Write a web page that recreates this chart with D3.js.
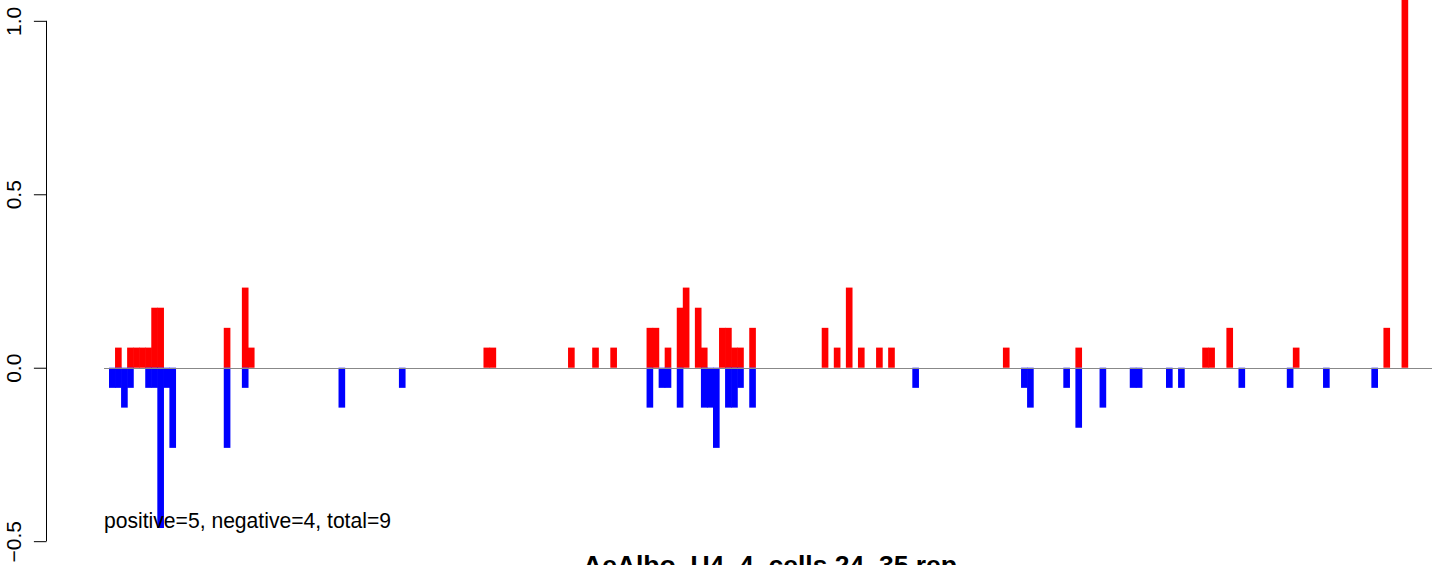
<!DOCTYPE html>
<html>
<head>
<meta charset="utf-8">
<script src="https://cdn.jsdelivr.net/npm/d3@7"></script>
<style>
  html, body { margin: 0; padding: 0; background: #ffffff; }
  svg { display: block; }
  text { font-family: "Liberation Sans", Arial, Helvetica, sans-serif; }
</style>
</head>
<body>
<script>
// ---- data (unit step ≈ 0.0577) ----
const nSlots = 215;
const redIdx = [1, 3, 4, 5, 6, 7, 8, 19, 22, 23, 62, 63, 76, 80, 83, 89, 90, 92, 94, 95, 97, 98,
  101, 102, 103, 104, 106, 118, 120, 122, 124, 127, 129, 148, 160, 181, 182, 185, 196, 211, 214];
const redVal = [0.058, 0.058, 0.058, 0.058, 0.058, 0.173, 0.173, 0.115, 0.231, 0.058, 0.058, 0.058,
  0.058, 0.058, 0.058, 0.115, 0.115, 0.058, 0.173, 0.231, 0.173, 0.058, 0.115, 0.115, 0.058, 0.058,
  0.115, 0.115, 0.058, 0.231, 0.058, 0.058, 0.058, 0.058, 0.058, 0.058, 0.058, 0.115, 0.058, 0.115, 1.2];
const blueIdx = [0, 1, 2, 3, 6, 7, 8, 9, 10, 19, 22, 38, 48, 89, 91, 92, 94, 98, 99, 100, 102, 103,
  104, 106, 133, 151, 152, 158, 160, 164, 169, 170, 175, 177, 187, 195, 201, 209];
const blueVal = [-0.058, -0.058, -0.115, -0.058, -0.058, -0.058, -0.462, -0.058, -0.231, -0.231,
  -0.058, -0.115, -0.058, -0.115, -0.058, -0.058, -0.115, -0.115, -0.115, -0.231, -0.115, -0.115,
  -0.058, -0.115, -0.058, -0.058, -0.115, -0.058, -0.173, -0.115, -0.058, -0.058, -0.058, -0.058,
  -0.058, -0.058, -0.058, -0.058];
const yTicks = [-0.5, 0.0, 0.5, 1.0];
const yTickLabels = ["\u22120.5", "0.0", "0.5", "1.0"];
const annotation = "positive=5, negative=4, total=9";
const title = "AeAlbo_U4_4, cells 24_35 rep";

// ---- layout ----
const W = 1444, H = 565;
const plotTop = 0, plotBottom = 562;
const axisX = 46;

const svg = d3.select("body").append("svg").attr("width", W).attr("height", H);

const x = d3.scaleLinear().domain([0, nSlots]).range([109, 109 + nSlots * 6.04]);
const y = d3.scaleLinear().domain([-0.56, 1.06]).range([plotBottom, plotTop]);

svg.append("clipPath").attr("id", "plotclip")
  .append("rect").attr("x", 0).attr("y", plotTop).attr("width", W).attr("height", plotBottom - plotTop);

const gBars = svg.append("g").attr("clip-path", "url(#plotclip)");

function drawBars(idx, vals, color) {
  const data = idx.map((k, i) => ({ k, v: vals[i] }));
  gBars.selectAll(null).data(data).enter().append("rect")
    .attr("x", d => x(d.k))
    .attr("width", d => x(d.k + 1) - x(d.k) + 0.6)
    .attr("y", d => y(Math.max(0, d.v)))
    .attr("height", d => Math.abs(y(d.v) - y(0)))
    .attr("fill", color);
}
drawBars(redIdx, redVal, "#ff0000");
drawBars(blueIdx, blueVal, "#0000ff");

// baseline
svg.append("line")
  .attr("x1", 104).attr("x2", 1432)
  .attr("y1", Math.round(y(0)) + 0.5).attr("y2", Math.round(y(0)) + 0.5)
  .attr("stroke", "#888888").attr("stroke-width", 1.2);

// y axis (R style)
const yAxis = d3.axisLeft(y).tickValues(yTicks).tickSize(12.6).tickFormat((d, i) => yTickLabels[i]);
const gAxis = svg.append("g").attr("transform", `translate(${axisX + 0.5},0)`).call(yAxis);
gAxis.select(".domain")
  .attr("d", `M0,${y(-0.5)}V${y(1.0)}`)
  .attr("stroke", "#000").attr("stroke-width", 1);
gAxis.selectAll(".tick line").attr("stroke", "#000");
gAxis.selectAll(".tick text")
  .attr("font-size", 21)
  .attr("fill", "#000")
  .attr("text-anchor", "middle")
  .attr("x", 0).attr("dy", 0)
  .attr("transform", `translate(${21 - axisX - 0.5},0) rotate(-90)`);

// annotation
svg.append("text")
  .attr("x", 104).attr("y", 528)
  .attr("font-size", 22)
  .attr("textLength", 287).attr("lengthAdjust", "spacingAndGlyphs")
  .attr("fill", "#000")
  .text(annotation);

// title (cut off at bottom edge, as in the reference)
svg.append("text")
  .attr("x", 770).attr("y", 574)
  .attr("text-anchor", "middle")
  .attr("font-size", 26).attr("font-weight", "bold")
  .attr("textLength", 374).attr("lengthAdjust", "spacingAndGlyphs")
  .attr("fill", "#000")
  .text(title);
</script>
</body>
</html>
